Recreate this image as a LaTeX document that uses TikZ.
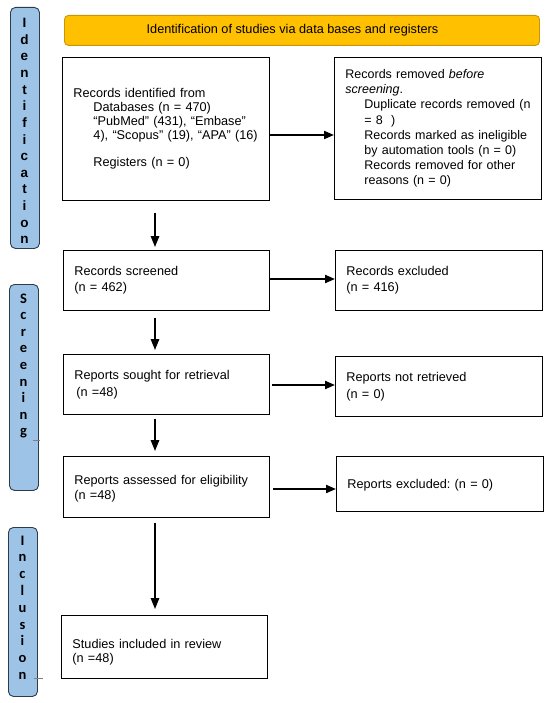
\documentclass[tikz,border=0pt]{standalone}
\usepackage{fontspec}
\setmainfont{Liberation Sans}
\newfontfamily\sidefont{Carlito}
\usetikzlibrary{arrows.meta,calc}
\definecolor{sidefill}{HTML}{9DC3E6}
\definecolor{sideedge}{HTML}{2E3B4A}
\definecolor{bannerfill}{HTML}{FFC000}
\definecolor{banneredge}{HTML}{C8960A}
\frenchspacing
\begin{document}
\begin{tikzpicture}[x=1pt,y=-1pt,
  box/.style={draw=black, line width=0.9pt, anchor=north west, inner xsep=11pt, inner ysep=0pt,
    align=left, font=\fontsize{12.7}{14}\selectfont},
  sidebox/.style={draw=sideedge, fill=sidefill, line width=0.9pt, rounded corners=5pt, anchor=north west, inner sep=0pt},
  idletter/.style={anchor=base, inner sep=0pt, font=\fontsize{13.5}{13.5}\selectfont\bfseries},
  sdletter/.style={anchor=base, inner sep=0pt, font=\fontsize{14.5}{14.5}\selectfont\sidefont\bfseries},
  banner/.style={draw=banneredge, fill=bannerfill, line width=0.9pt, rounded corners=4pt, anchor=north west,
    inner sep=0pt, font=\fontsize{12.7}{14}\selectfont},
  harrow/.style={line width=2pt, -{Triangle[length=10pt,width=8pt]}},
  varrow/.style={line width=1.5pt, -{Triangle[length=11pt,width=8.5pt]}},
  tickmark/.style={draw=gray, line width=0.6pt}
]
\useasboundingbox (0,0) rectangle (550,703);

% side stage boxes
\node[sidebox, minimum width=29pt, minimum height=241pt] (idbox) at (10,7) {};
\node[sidebox, minimum width=29pt, minimum height=206pt] (scbox) at (9,284) {};
\node[sidebox, minimum width=29pt, minimum height=169pt] (inbox) at (8,527) {};

\foreach \l [count=\i from 0] in {I,d,e,n,t,i,f,i,c,a,t,i,o,n}
  \node[idletter] (idl\i) at (24.5,{27.5+16.65*\i}) {\l};
\foreach \l [count=\i from 0] in {S,c,r,e,e,n,i,n,g}
  \node[sdletter] (scl\i) at (23.5,{303+16.6*\i}) {\l};
\foreach \l [count=\i from 0] in {I,n,c,l,u,s,i,o,n}
  \node[sdletter] (inl\i) at (22.5,{545+16.8*\i}) {\l};

\draw[tickmark] ($(scbox.east |- 0,440)+(-6,0)$) -- ++(7,0);
\draw[tickmark] ($(inbox.east |- 0,678)+(-4,0)$) -- ++(9,0);

% banner
\node[banner, minimum width=475pt, minimum height=30pt] (banner) at (64,15)
  {Identification of studies via data bases and registers\hspace*{19pt}};

% boxes
\node[box, minimum width=207pt, minimum height=143pt, text width=185pt] (b1) at (62,57)
  {Records identified from\\
   \hspace*{20pt}Databases (n = 470)\\
   \hspace*{20pt}“PubMed” (431), “Embase”\\
   \hspace*{20pt}4), “Scopus” (19), “APA” (16)\\[13.5pt]
   \hspace*{20pt}Registers (n = 0)};

\node[box, minimum width=207pt, minimum height=142pt, text width=185pt,
  font=\fontsize{12.5}{15.2}\selectfont] (b2) at (334,57)
  {\mbox{Records removed \textit{before}}\\
   \mbox{\textit{screening}.}\\
   \mbox{\hspace*{19pt}Duplicate records removed (n}\\
   \mbox{\hspace*{19pt}= 8\ \ )}\\
   \mbox{\hspace*{19pt}Records marked as ineligible}\\
   \mbox{\hspace*{19pt}by automation tools (n = 0)}\\
   \mbox{\hspace*{19pt}Records removed for other}\\
   \mbox{\hspace*{19pt}reasons (n = 0)}};

\node[box, minimum width=206pt, minimum height=60pt, text width=184pt, font=\fontsize{12.7}{16}\selectfont] (b3) at (63,250)
  {Records screened\\(n = 462)};
\node[box, minimum width=207pt, minimum height=60pt, text width=185pt, font=\fontsize{12.7}{16}\selectfont] (b4) at (335,250)
  {Records excluded\\(n = 416)};

\node[box, minimum width=206pt, minimum height=60pt, text width=184pt, font=\fontsize{12.7}{17}\selectfont] (b5) at (63,354)
  {Reports sought for retrieval\\\hspace*{2pt}(n =48)};
\node[box, minimum width=207pt, minimum height=60pt, text width=185pt, font=\fontsize{12.7}{17}\selectfont] (b6) at (335,356)
  {Reports not retrieved\\(n = 0)};

\node[box, minimum width=206pt, minimum height=61pt, text width=184pt, font=\fontsize{12.7}{15}\selectfont] (b7) at (63,456)
  {\rule{0pt}{13pt}Reports assessed for eligibility\\(n =48)};
\node[box, minimum width=207pt, minimum height=55pt, text width=185pt] (b8) at (336,456)
  {\rule{0pt}{12pt}Reports excluded: (n = 0)};

\node[box, minimum width=206pt, minimum height=63pt, text width=184pt, font=\fontsize{12.7}{14}\selectfont] (b9) at (61,615)
  {\rule{0pt}{19pt}Studies included in review\\(n =48)};

% horizontal arrows
\draw[harrow] (b1.east |- 0,135) -- (b2.west |- 0,135);
\draw[harrow] (b3.east |- 0,279) -- (b4.west |- 0,279);
\draw[harrow, shorten <=2pt] (b5.east |- 0,385) -- (b6.west |- 0,385);
\draw[harrow, shorten <=3pt] (b7.east |- 0,489) -- (b8.west |- 0,489);

% vertical arrows
\draw[varrow, shorten <=12pt, shorten >=3pt] (b1.south -| 155,0) -- (b3.north -| 155,0);
\draw[varrow, shorten <=7pt, shorten >=4pt] (b3.south -| 155,0) -- (b5.north -| 155,0);
\draw[varrow, shorten <=4pt, shorten >=5pt] (b5.south -| 155,0) -- (b7.north -| 155,0);
\draw[varrow, shorten <=5pt, shorten >=6pt] (b7.south -| 155,0) -- (b9.north -| 155,0);
\end{tikzpicture}
\end{document}
